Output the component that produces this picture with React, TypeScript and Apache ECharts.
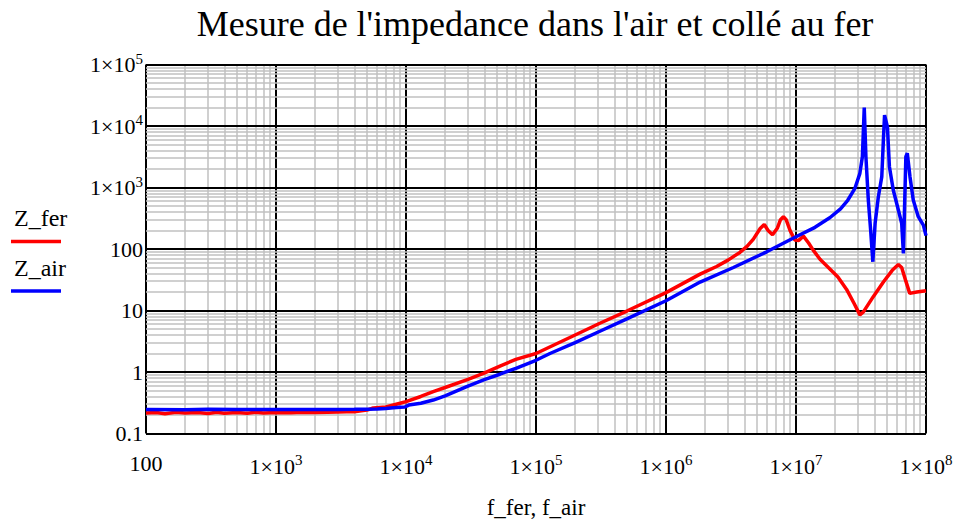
import React, { useEffect, useRef } from "react";
import * as echarts from "echarts";

const titleText = "Mesure de l'impedance dans l'air et collé au fer";
const xAxisTitle = "f_fer, f_air";
const seriesNames = ["Z_fer", "Z_air"];

const xTickLabels = ["{b|100}", "{b|1×10}{sup|3}", "{b|1×10}{sup|4}", "{b|1×10}{sup|5}", "{b|1×10}{sup|6}", "{b|1×10}{sup|7}", "{b|1×10}{sup|8}"];
const yTickLabels = ["{b|0.1}", "{b|1}", "{b|10}", "{b|100}", "{b|1×10}{sup|3}", "{b|1×10}{sup|4}", "{b|1×10}{sup|5}"];

const freqFer = [
  100, 120, 140, 170, 200, 250, 300, 350, 400, 500, 600, 700, 800, 1000, 1300, 1600, 2000, 2500, 3000, 3500,
  4000, 5000, 5600, 7000, 9000, 1e4, 1.3e4, 1.62e4, 2e4, 3e4, 3.94e4, 5.28e4, 7e4, 1e5, 2e5, 3.1e5, 5e5, 1e6,
  1.83e6, 2.45e6, 3e6, 3.7e6, 4.2e6, 4.7e6, 5.3e6, 5.7e6, 6.1e6, 6.6e6, 7.2e6, 7.6e6, 8e6, 8.4e6, 9e6, 9.8e6,
  1.05e7, 1.14e7, 1.25e7, 1.36e7, 1.53e7, 1.83e7, 2.1e7, 2.45e7, 2.8e7, 3.1e7, 3.3e7, 3.93e7, 4.7e7, 5.5e7,
  6.13e7, 6.5e7, 7e7, 7.5e7, 8.5e7, 1e8,
];
const zFer = [
  0.215, 0.22, 0.21, 0.222, 0.215, 0.22, 0.212, 0.222, 0.214, 0.22, 0.213, 0.221, 0.215, 0.22, 0.218, 0.222, 0.22, 0.222, 0.223, 0.225,
  0.226, 0.24, 0.26, 0.27, 0.31, 0.33, 0.4, 0.48, 0.56, 0.76, 0.95, 1.25, 1.6, 2.0, 4.0, 6.2, 9.8, 19.5,
  39, 52, 66, 88, 110, 145, 215, 250, 200, 170, 220, 300, 335, 300, 200, 140,
  138, 162, 125, 95, 68, 47, 35, 22, 13, 8.5, 9.5, 16.8, 29, 45,
  56, 50, 30, 19, 20, 21,
];

const freqAir = [
  100, 200, 300, 500, 700, 1000, 2000, 3000, 4000, 5000, 6000, 7000, 8000, 9000, 9800, 1.05e4, 1.3e4, 1.62e4,
  2e4, 2.93e4, 4e4, 5.28e4, 7e4, 1e5, 1.28e5, 2e5, 3.1e5, 5e5, 1e6, 1.83e6, 3.3e6, 5.95e6, 1e7, 1.4e7, 1.83e7,
  2.2e7, 2.5e7, 2.84e7, 3.1e7, 3.24e7, 3.35e7, 3.45e7, 3.6e7, 3.75e7, 3.9e7, 4.06e7, 4.3e7, 4.57e7, 4.7e7,
  4.8e7, 5.05e7, 5.23e7, 5.6e7, 6.13e7, 6.5e7, 6.7e7, 7.0e7, 7.18e7, 7.53e7, 7.98e7, 8.72e7, 9.54e7, 1e8,
];
const zAir = [
  0.245, 0.243, 0.247, 0.245, 0.246, 0.245, 0.245, 0.246, 0.247, 0.248, 0.25, 0.255, 0.262, 0.268, 0.27, 0.29, 0.31, 0.35,
  0.41, 0.58, 0.75, 0.92, 1.15, 1.55, 2.0, 3.0, 4.6, 7.3, 14.4, 29, 50, 90, 158, 225, 325,
  450, 620, 970, 1700, 3160, 20000, 3160, 626, 204, 62, 262, 708, 1500, 5900,
  15000, 9700, 2180, 910, 430, 262, 85, 3160, 3600, 1500, 626, 335, 245, 165,
];

const xMin = 100;
const xMax = 1e8;
const yMin = 0.1;
const yMax = 1e5;

const serif = "Liberation Serif";

function decadeValues(min: number, max: number) {
  const out: number[] = [];
  for (let v = min; v <= max * 1.0001; v *= 10) out.push(v);
  return out;
}
function minorValues(min: number, max: number) {
  const out: number[] = [];
  for (let v = min; v < max * 0.9999; v *= 10) {
    for (let m = 2; m <= 9; m++) out.push(m * v);
  }
  return out;
}

function labelFor(list: string[], min: number) {
  return (v: number) => {
    const i = Math.round(Math.log10(v) - Math.log10(min));
    return list[i] ?? "";
  };
}

export default function App() {
  const ref = useRef<HTMLDivElement>(null);
  useEffect(() => {
    if (!ref.current) return;
    const chart = echarts.init(ref.current, undefined, { renderer: "svg", width: 960, height: 519 });

    const gridSeries = (z: number, data: any[], color: string, width: number) => ({
      type: "line",
      data: [],
      z,
      silent: true,
      markLine: {
        silent: true,
        symbol: ["none", "none"],
        label: { show: false },
        animation: false,
        lineStyle: { color, width, type: "solid" },
        emphasis: { disabled: true },
        data,
      },
    });

    const labelRich = {
      b: { fontSize: 22, fontFamily: serif, color: "#000", lineHeight: 22 },
      sup: { fontSize: 15, fontFamily: serif, color: "#000", padding: [0, 0, 12, 0] },
    };

    chart.setOption({
      animation: false,
      backgroundColor: "#fff",
      grid: { left: 146, right: 34, top: 64.5, bottom: 85.5, containLabel: false, outerBoundsMode: "none" },
      xAxis: {
        type: "log",
        logBase: 10,
        min: xMin,
        max: xMax,
        splitNumber: 6,
        axisLine: { show: false },
        axisTick: { show: false },
        splitLine: { show: false },
        minorTick: { show: false },
        name: xAxisTitle,
        nameLocation: "middle",
        nameGap: 62,
        nameTextStyle: { fontFamily: serif, fontSize: 23, color: "#000" },
        axisLabel: {
          formatter: labelFor(xTickLabels, xMin),
          fontFamily: serif,
          fontSize: 22,
          color: "#000",
          margin: 19,
          rich: labelRich,
          showMinLabel: true,
          showMaxLabel: true,
        },
      },
      yAxis: {
        type: "log",
        logBase: 10,
        min: yMin,
        max: yMax,
        splitNumber: 6,
        axisLine: { show: false },
        axisTick: { show: false },
        splitLine: { show: false },
        axisLabel: {
          formatter: labelFor(yTickLabels, yMin),
          fontFamily: serif,
          fontSize: 22,
          color: "#000",
          margin: 3,
          rich: labelRich,
          showMinLabel: true,
          showMaxLabel: true,
        },
      },
      graphic: [
        {
          type: "text",
          x: 535,
          y: 6,
          style: { text: titleText, font: `36px ${serif}`, fill: "#000", textAlign: "center", textVerticalAlign: "top" },
        },
        { type: "text", x: 14, y: 206, style: { text: seriesNames[0], font: `24px ${serif}`, fill: "#000", textVerticalAlign: "top" } },
        { type: "line", shape: { x1: 11, y1: 241.5, x2: 61, y2: 241.5 }, style: { stroke: "#ff0000", lineWidth: 3.5 } },
        { type: "text", x: 14, y: 256, style: { text: seriesNames[1], font: `24px ${serif}`, fill: "#000", textVerticalAlign: "top" } },
        { type: "line", shape: { x1: 11, y1: 291, x2: 61, y2: 291 }, style: { stroke: "#0000ff", lineWidth: 3.5 } },
      ],
      series: [
        gridSeries(1, decadeValues(xMin, xMax).map((v) => ({ xAxis: v })), "#000", 2),
        gridSeries(2, minorValues(xMin, xMax).map((v) => ({ xAxis: v })), "#c0c0c0", 1.5),
        gridSeries(3, minorValues(yMin, yMax).map((v) => ({ yAxis: v })), "#c0c0c0", 1.5),
        gridSeries(4, decadeValues(yMin, yMax).map((v) => ({ yAxis: v })), "#000", 2),
        {
          name: seriesNames[0],
          type: "line",
          z: 10,
          showSymbol: false,
          symbol: "none",
          lineStyle: { color: "#ff0000", width: 3.5 },
          itemStyle: { color: "#ff0000" },
          data: freqFer.map((f, i) => [f, zFer[i]]),
        },
        {
          name: seriesNames[1],
          type: "line",
          z: 11,
          showSymbol: false,
          symbol: "none",
          lineStyle: { color: "#0000ff", width: 3.5 },
          itemStyle: { color: "#0000ff" },
          data: freqAir.map((f, i) => [f, zAir[i]]),
        },
      ],
    });
    return () => chart.dispose();
  }, []);
  return (
    <div
      ref={ref}
      style={{ position: "absolute", left: 0, top: 0, width: 960, height: 519, background: "#fff" }}
    />
  );
}
